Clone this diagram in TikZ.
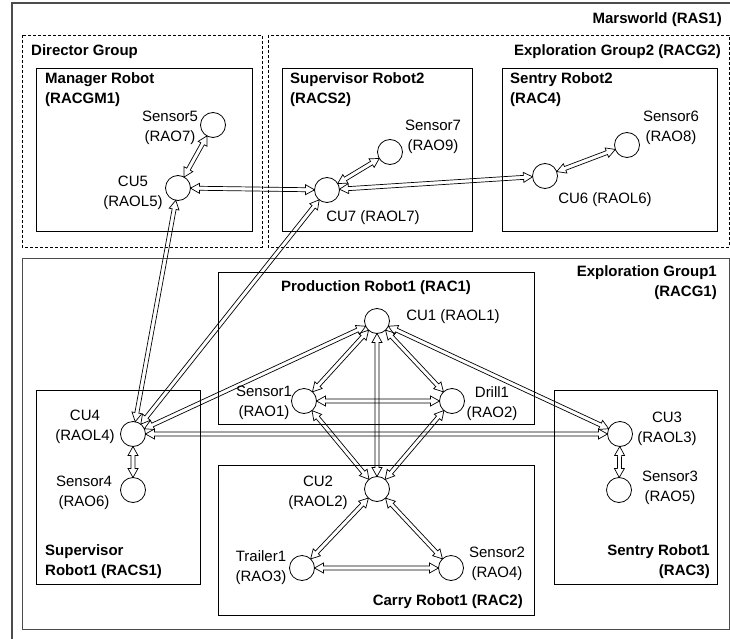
\documentclass[tikz,border=0pt]{standalone}
\usepackage{fontspec}
\setmainfont{Liberation Sans}
\usetikzlibrary{calc}

% geometry of the hollow double-headed links
\newcommand{\cirR}{12.5}
\newcommand{\headL}{9}
\newcommand{\headW}{5}
\newcommand{\shaftW}{2}

% \dlink{a}{b}: hollow double arrow between the circles a and b
\newcommand{\dlink}[2]{%
  \draw[connector] let \p1=(#1.center), \p2=(#2.center),
      \n1={atan2(\y2-\y1,\x2-\x1)}, \n2={veclen(\x2-\x1,\y2-\y1)} in
    [shift={(\p1)}, rotate=\n1]
    (\cirR,0) -- (\cirR+\headL,\headW) -- (\cirR+\headL,\shaftW)
    -- (\n2-\cirR-\headL,\shaftW) -- (\n2-\cirR-\headL,\headW) -- (\n2-\cirR,0)
    -- (\n2-\cirR-\headL,-\headW) -- (\n2-\cirR-\headL,-\shaftW)
    -- (\cirR+\headL,-\shaftW) -- (\cirR+\headL,-\headW) -- cycle;}

\begin{document}
\begin{tikzpicture}[x=1pt,y=-1pt,
  font=\fontsize{15}{20}\selectfont,
  unit/.style={circle,draw,line width=0.8pt,minimum size=25pt,inner sep=0pt},
  lbl/.style={align=center,inner sep=0pt},
  ttl/.style={font=\fontsize{15}{20}\selectfont\bfseries,inner sep=0pt},
  robot/.style={draw,line width=0.9pt},
  group/.style={draw,dash pattern=on 3pt off 2pt,line width=0.8pt},
  world/.style={draw,black!70,line width=1.3pt},
  connector/.style={draw,line width=0.7pt,line join=miter}]

\useasboundingbox (0,0) rectangle (730,639);
\clip (0,0) rectangle (730,639);

% world and groups
\path[world] (12,3) rectangle (740,650);
\path[group] (22,35) rectangle (262,247);
\path[group] (268,35) rectangle (729,247);
\path[world,line width=1pt] (22,258) rectangle (729,629);

% robots
\path[robot] (36,68) rectangle (252,231);
\path[robot] (282,68) rectangle (472,231);
\path[robot] (502,68) rectangle (717,231);
\path[robot] (218,272) rectangle (534,424);
\path[robot] (218,465) rectangle (534,615);
\path[robot] (36,390) rectangle (200,584);
\path[robot] (554,390) rectangle (717,584);

% titles
\node[ttl,anchor=east] (tWorld) at (722,20) {Marsworld (RAS1)};
\node[ttl,anchor=west] (tDir) at (31,52) {Director Group};
\node[ttl,anchor=east] (tEG2) at (721,52) {Exploration Group2 (RACG2)};
\node[ttl,anchor=west,align=left] (tMgr) at (45,90) {Manager Robot\\(RACGM1)};
\node[ttl,anchor=west,align=left] (tSup2) at (290,90) {Supervisor Robot2\\(RACS2)};
\node[ttl,anchor=west,align=left] (tSen2) at (510,90) {Sentry Robot2\\(RAC4)};
\node[ttl] (tProd) at (376,288) {Production Robot1 (RAC1)};
\node[ttl,anchor=east,align=right] (tEG1) at (717,283) {Exploration Group1\\(RACG1)};
\node[ttl,anchor=west,align=left] (tSup1) at (45,562) {Supervisor\\Robot1 (RACS1)};
\node[ttl,anchor=east,align=right] (tSen1) at (710,562) {Sentry Robot1\\(RAC3)};
\node[ttl,anchor=east] (tCarry) at (523,602) {Carry Robot1 (RAC2)};

% units and objects
\node[unit] (s5) at (213,125) {};
\node[unit] (cu5) at (178,188) {};
\node[unit] (cu7) at (327,190) {};
\node[unit] (s7) at (390,152) {};
\node[unit] (s6) at (627,145) {};
\node[unit] (cu6) at (545,176) {};
\node[unit] (cu1) at (377,321) {};
\node[unit] (s1) at (304,401) {};
\node[unit] (d1) at (452,401) {};
\node[unit] (cu4) at (133,434) {};
\node[unit] (cu3) at (620,434) {};
\node[unit] (s4) at (133,490) {};
\node[unit] (s3) at (619,490) {};
\node[unit] (cu2) at (377,489) {};
\node[unit] (tr1) at (302,568) {};
\node[unit] (s2) at (451,568) {};

% labels
\node[lbl] (ls5) at (170,128) {Sensor5\\(RAO7)};
\node[lbl] (lcu5) at (133,193) {CU5\\(RAOL5)};
\node[lbl] (ls7) at (433,137) {Sensor7\\(RAO9)};
\node[lbl] (ls6) at (671,128) {Sensor6\\(RAO8)};
\node[lbl] (lcu6) at (605,200) {CU6 (RAOL6)};
\node[lbl] (lcu7) at (373,218) {CU7 (RAOL7)};
\node[lbl] (lcu1) at (453,317) {CU1 (RAOL1)};
\node[lbl] (ls1) at (264,403) {Sensor1\\(RAO1)};
\node[lbl] (ld1) at (492,404) {Drill1\\(RAO2)};
\node[lbl] (lcu4) at (85,427) {CU4\\(RAOL4)};
\node[lbl] (lcu3) at (667,429) {CU3\\(RAOL3)};
\node[lbl] (ls4) at (84,493) {Sensor4\\(RAO6)};
\node[lbl] (ls3) at (670,488) {Sensor3\\(RAO5)};
\node[lbl] (lcu2) at (318,493) {CU2\\(RAOL2)};
\node[lbl] (ltr1) at (261,568) {Trailer1\\(RAO3)};
\node[lbl] (ls2) at (497,564) {Sensor2\\(RAO4)};

% links
\dlink{s5}{cu5}
\dlink{cu5}{cu7}
\dlink{cu7}{s7}
\dlink{cu7}{cu6}
\dlink{cu6}{s6}
\dlink{cu5}{cu4}
\dlink{cu7}{cu4}
\dlink{cu1}{cu4}
\dlink{cu1}{s1}
\dlink{cu1}{d1}
\dlink{cu1}{cu2}
\dlink{cu1}{cu3}
\dlink{s1}{d1}
\dlink{cu4}{cu3}
\dlink{s1}{cu2}
\dlink{d1}{cu2}
\dlink{cu4}{s4}
\dlink{cu3}{s3}
\dlink{cu2}{tr1}
\dlink{cu2}{s2}
\dlink{tr1}{s2}
\end{tikzpicture}
\end{document}
